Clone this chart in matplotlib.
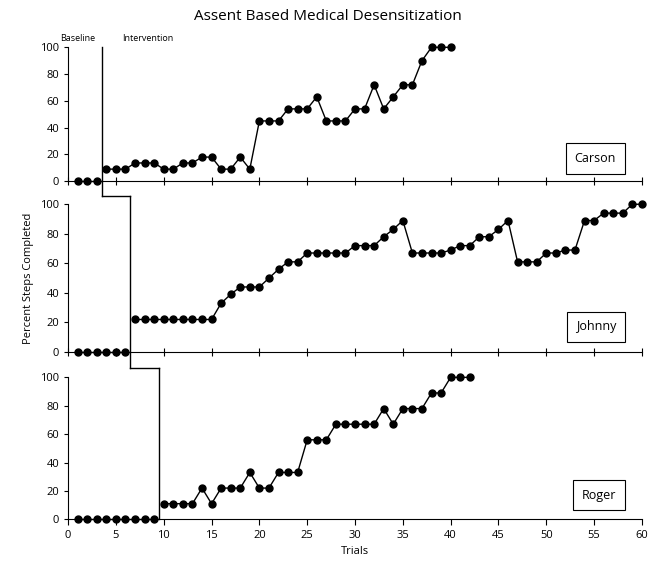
import matplotlib
matplotlib.use("Agg")
import matplotlib.pyplot as plt

plt.rcParams['font.family'] = ['Open Sans', 'DejaVu Sans']

carson = [0, 0, 0, 9, 9, 9, 13.6, 13.6, 13.6, 9, 9, 13.6, 13.6, 18, 18, 9, 9, 18, 9,
          45, 45, 45, 54, 54, 54, 63, 45, 45, 45, 54, 54, 72, 54, 63, 72, 72, 90, 100, 100, 100]
johnny = [0, 0, 0, 0, 0, 0, 22, 22, 22, 22, 22, 22, 22, 22, 22,
          33, 39, 44, 44, 44, 50, 56, 61, 61, 67, 67, 67, 67, 67, 72, 72, 72, 78, 83, 89,
          67, 67, 67, 67, 69, 72, 72, 78, 78, 83, 89, 61, 61, 61, 67, 67, 69, 69,
          89, 89, 94, 94, 94, 100, 100]
roger = [0, 0, 0, 0, 0, 0, 0, 0, 0, 11, 11, 11, 11, 22, 11, 22, 22, 22, 33, 22, 22,
         33, 33, 33, 56, 56, 56, 67, 67, 67, 67, 67, 78, 67, 78, 78, 78, 89, 89, 100, 100, 100]
names = ["Carson", "Johnny", "Roger"]
series = [carson, johnny, roger]
baseline_n = [3, 6, 9]

fig = plt.figure(figsize=(6.55, 5.77), dpi=100)
rects = [(0.104, 0.686, 0.876, 0.232), (0.104, 0.390, 0.876, 0.256), (0.104, 0.100, 0.876, 0.246)]
axes = [fig.add_axes(r) for r in rects]
tops = [100, 105.5, 106.3]
bots = [-11, -10.8, 0]

for i, (ax, name, vals, nb) in enumerate(zip(axes, names, series, baseline_n)):
    base_x = list(range(1, nb + 1))
    int_x = list(range(nb + 1, len(vals) + 1))
    ax.plot(base_x, vals[:nb], 'k-o', ms=5, lw=1, clip_on=False, zorder=3)
    ax.plot(int_x, vals[nb:], 'k-o', ms=5, lw=1, clip_on=False, zorder=3)
    ax.set_xlim(0, 60)
    ax.set_ylim(0, 100)
    ax.set_yticks(range(0, 101, 20))
    ax.set_xticks(range(0, 61, 5))
    ax.tick_params(axis='y', length=3, labelsize=8)
    ax.tick_params(axis='x', labelsize=8, length=4)
    if i < 2:
        ax.tick_params(axis='x', labelbottom=False, direction='inout', length=6)
    for s in ['top', 'right']:
        ax.spines[s].set_visible(False)
    ax.patch.set_alpha(0)
    ax.text(0.955, 0.17, name, transform=ax.transAxes, ha='right', va='center', fontsize=9,
            bbox=dict(boxstyle='square,pad=0.7', fc='white', ec='black', lw=0.8))
    # phase change line
    px = nb + 0.5
    ax.plot([px, px], [tops[i], bots[i]], 'k-', lw=1, clip_on=False)
    if i < 2:
        nxt = baseline_n[i + 1] + 0.5
        ax.plot([px, nxt], [bots[i], bots[i]], 'k-', lw=1, clip_on=False)

axes[0].text(-0.8, 103, "Baseline", fontsize=6.5, va='bottom')
axes[0].text(5.6, 103, "Intervention", fontsize=6.5, va='bottom')
axes[1].set_ylabel("Percent Steps Completed", fontsize=8)
axes[2].set_xlabel("Trials", fontsize=8)
fig.suptitle("Assent Based Medical Desensitization", fontsize=11, y=0.985)

fig.savefig("out.png", dpi=100)
